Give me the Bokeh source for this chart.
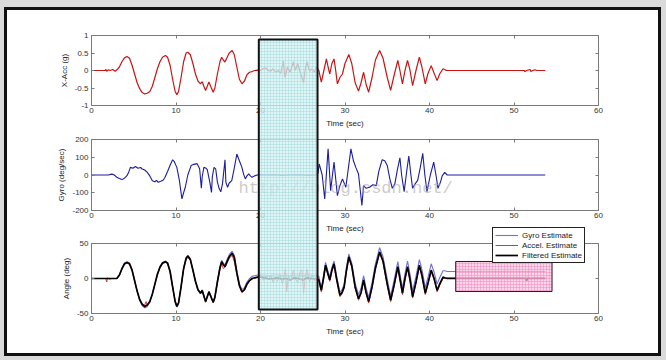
from bokeh.plotting import figure
from bokeh.models import BoxAnnotation, Label, Legend, LegendItem, LinearAxis, FixedTicker, Range1d
from bokeh.layouts import column
from bokeh.embed import file_html
from bokeh.resources import INLINE

FONT = "Liberation Sans"

# ---------------- data ----------------
x_ticks = [0, 10, 20, 30, 40, 50, 60]
x_tick_labels = ["0", "10", "20", "30", "40", "50", "60"]
acc_ticks = [-1, -0.5, 0, 0.5, 1]
acc_tick_labels = ["-1", "-0.5", "0", "0.5", "1"]
gyro_ticks = [-200, -100, 0, 100, 200]
gyro_tick_labels = ["-200", "-100", "0", "100", "200"]
ang_ticks = [-50, 0, 50]
ang_tick_labels = ["-50", "0", "50"]

acc_t = [0, 1.6, 1.7, 1.8, 2.0, 2.2, 2.5, 2.8, 3.0, 3.3,
         3.6, 3.9, 4.2, 4.5, 4.8, 5.1, 5.4, 5.7, 6.0, 6.3,
         6.6, 6.9, 7.2, 7.5, 7.8, 8.1, 8.4, 8.75, 9.0, 9.3,
         9.6, 9.9, 10.1, 10.3, 10.6, 10.9, 11.2, 11.4, 11.7, 12.0,
         12.3, 12.6, 12.9, 13.1, 13.3, 13.5, 13.7, 13.9, 14.1, 14.4,
         14.6, 14.9, 15.2, 15.4, 15.6, 15.8, 16.0, 16.3, 16.65, 16.9,
         17.2, 17.5, 17.8, 18.1, 18.4, 18.7, 19.0, 19.3, 19.7, 20.0,
         20.3, 20.6, 20.9, 21.2, 21.5, 21.8, 22.1, 22.4, 22.7, 22.9,
         23.2, 23.5, 23.9, 24.1, 24.4, 24.7, 25.1, 25.3, 25.5, 25.8,
         26.1, 26.4, 26.6, 26.9, 27.2, 27.5, 27.8, 28.0, 28.2, 28.45,
         28.7, 28.9, 29.1, 29.4, 29.7, 30.0, 30.45, 30.8, 31.2, 31.6,
         31.9, 32.2, 32.5, 32.8, 33.2, 33.6, 34.1, 34.5, 35.0, 35.4,
         35.8, 36.25, 36.5, 36.8, 37.1, 37.4, 37.7, 38.0, 38.4, 38.8,
         39.1, 39.5, 39.8, 40.2, 40.5, 40.9, 41.2, 41.6, 41.8, 42.0,
         51.2, 51.3, 51.5, 51.9, 52.0, 52.2, 52.5, 52.7, 53.7]
acc_v = [0, 0, 0.03, -0.02, 0.02, 0.0, 0.03, -0.02, 0.02, 0.1,
         0.25, 0.36, 0.40, 0.35, 0.15, -0.1, -0.35, -0.52, -0.63, -0.67,
         -0.65, -0.6, -0.45, -0.2, 0.05, 0.25, 0.38, 0.43, 0.38, 0.15,
         -0.25, -0.6, -0.69, -0.6, -0.2, 0.25, 0.5, 0.52, 0.45, 0.2,
         -0.1, -0.3, -0.38, -0.32, -0.45, -0.57, -0.45, -0.33, -0.45, -0.62,
         -0.5, -0.1, 0.25, 0.38, 0.3, 0.24, 0.35, 0.5, 0.57, 0.45,
         0.1, -0.25, -0.38, -0.3, -0.12, -0.05, -0.03, 0.0, 0.01, 0.0,
         0.05, 0.08, 0.0, -0.02, 0.05, -0.05, 0.0, -0.08, 0.27, -0.2,
         0.1, -0.05, 0.25, 0.0, 0.2, -0.05, -0.35, 0.05, 0.25, -0.02,
         0.05, -0.05, 0.1, 0.0, -0.33, 0.0, 0.33, 0.1, -0.1, 0.2,
         0.33, 0.0, -0.38, -0.2, -0.1, 0.2, 0.46, 0.2, -0.35, -0.59,
         -0.35, -0.05, -0.4, -0.62, -0.2, 0.3, 0.57, 0.35, -0.2, -0.57,
         -0.15, 0.29, 0.0, -0.38, 0.0, 0.29, 0.0, -0.43, 0.0, 0.38,
         0.1, -0.38, -0.1, 0.14, -0.05, -0.29, -0.1, 0.05, 0.03, 0.0,
         0.0, -0.03, 0.0, 0.03, -0.03, 0.0, 0.02, 0.0, 0.0]

gyro_t = [0, 2.0, 2.4, 2.7, 3.0, 3.3, 3.6, 3.9, 4.2, 4.4,
          4.6, 4.9, 5.2, 5.5, 5.8, 6.0, 6.3, 6.6, 6.9, 7.2,
          7.5, 7.7, 7.9, 8.2, 8.5, 8.7, 9.0, 9.3, 9.6, 9.8,
          10.1, 10.4, 10.7, 10.9, 11.1, 11.4, 11.8, 12.1, 12.5, 12.7,
          12.8, 13.0, 13.1, 13.3, 13.5, 13.7, 14.0, 14.2, 14.3, 14.5,
          14.7, 14.9, 15.1, 15.3, 15.5, 15.8, 15.9, 16.1, 16.3, 16.6,
          16.9, 17.2, 17.5, 17.8, 18.0, 18.2, 18.4, 18.6, 18.8, 19.0,
          19.3, 19.6, 20.0, 20.5, 21.5, 22.5, 23.5, 24.5, 25.5, 26.5,
          26.8, 26.95, 27.3, 27.6, 28.0, 28.3, 28.7, 29.1, 29.4, 29.7,
          30.1, 30.7, 31.0, 31.3, 31.6, 32.0, 32.2, 32.5, 32.9, 33.3,
          33.7, 34.0, 34.4, 34.7, 35.0, 35.3, 35.6, 35.9, 36.2, 36.5,
          36.7, 37.0, 37.3, 37.55, 37.8, 38.0, 38.3, 38.6, 38.9, 39.2,
          39.45, 39.7, 40.1, 40.5, 40.8, 41.0, 41.3, 41.5, 41.8, 42.1,
          53.7]
gyro_v = [0, 0, 5, 0, -13, -20, -26, -18, -4, 15,
          43, 38, 48, 38, 42, 34, 28, 15, -5, -32,
          -38, -30, -41, -35, -28, -13, 20, 55, 86, 75,
          43, -30, -135, -100, -69, 0, 54, 60, 64, 45,
          34, -75, -10, 43, 40, 30, -40, -98, -10, 43,
          34, -40, -75, -95, -50, 86, -40, -69, -45, -32,
          40, 118, 80, 43, 5, -22, -5, 6, -5, -13,
          -5, 0, 2, 0, 1, -1, 0, 1, -1, 0,
          10, 62, 0, -135, 147, -88, 73, -116, -60, -22,
          -69, 147, 80, 40, 6, -172, -60, -75, -69, -55,
          -60, 20, 86, 80, 54, -20, -75, -50, 30, 97,
          0, -94, 20, 107, 0, -75, -50, -30, 40, 122,
          0, -94, 0, 73, -10, -75, -40, -5, 15, 0,
          0]

ang_t = [0, 3.0, 3.3, 3.6, 3.9, 4.2, 4.5, 4.8, 5.1, 5.4,
         5.7, 6.0, 6.3, 6.6, 6.9, 7.2, 7.5, 7.8, 8.1, 8.4,
         8.75, 9.0, 9.3, 9.6, 9.9, 10.1, 10.3, 10.6, 10.9, 11.2,
         11.4, 11.7, 12.0, 12.3, 12.6, 12.9, 13.1, 13.3, 13.5, 13.7,
         13.9, 14.1, 14.4, 14.6, 14.9, 15.2, 15.4, 15.6, 15.8, 16.0,
         16.3, 16.65, 16.9, 17.2, 17.5, 17.8, 18.1, 18.4, 18.7, 19.0,
         19.3, 19.7, 20.0, 20.5, 21.0, 21.5, 22.0, 22.5, 23.0, 23.5,
         24.0, 24.5, 25.0, 25.5, 26.0, 26.5, 26.9, 27.2, 27.45, 27.7,
         27.95, 28.2, 28.45, 28.7, 29.0, 29.4, 29.65, 29.9, 30.15, 30.45,
         30.8, 31.2, 31.6, 31.9, 32.2, 32.5, 32.8, 33.2, 33.6, 34.1,
         34.5, 35.0, 35.4, 35.8, 36.25, 36.5, 36.8, 37.1, 37.4, 37.7,
         38.0, 38.4, 38.8, 39.1, 39.5, 39.85, 40.2, 40.55, 40.9, 41.2,
         41.6, 41.8, 42.1, 51.4, 51.5, 51.6, 53.7]
filtered_est = [0, 0, 5, 14, 21, 23, 21, 12, -3, -18,
                -30, -37, -40, -38, -33, -22, -8, 6, 16, 22,
                24, 22, 10, -12, -33, -40, -35, -12, 14, 29,
                32, 27, 12, -4, -16, -21, -17, -25, -33, -26,
                -19, -25, -34, -27, -5, 15, 24, 20, 17, 23,
                31, 36, 30, 8, -10, -19, -16, -8, -3, 0,
                1, 2, 2, 1, -1, 0, 1, -1, 0, -2,
                1, 0, -2, 1, 0, -1, -2, -17, 0, 19,
                8, -2, 12, 21, 0, -24, -20, -12, 10, 31,
                18, -12, -29, -20, -2, -20, -33, -12, 15, 38,
                25, -8, -31, -10, 17, 0, -21, 0, 17, -2,
                -26, -5, 19, 5, -21, -5, 12, 0, -17, -8,
                2, 1, 0, 0, -3, 0, 0]
gyro_est = [0, 0, 5, 14, 22, 24, 22, 13, -2, -18,
            -31, -39, -42, -40, -34, -22, -8, 7, 17, 23,
            25, 23, 11, -11, -33, -41, -36, -11, 15, 30,
            33, 28, 13, -3, -15, -20, -16, -24, -32, -25,
            -18, -24, -33, -26, -3, 17, 26, 22, 19, 26,
            34, 39, 33, 11, -7, -16, -13, -5, 0, 3,
            4, 5, 5, 5, 4, 5, 5, 4, 5, 4,
            5, 5, 4, 5, 5, 4, 3, -14, 3, 23,
            12, 2, 16, 25, 4, -20, -16, -8, 14, 35,
            22, -7, -23, -14, 4, -14, -27, -6, 21, 44,
            31, -1, -25, -3, 24, 7, -14, 7, 25, 6,
            -18, 3, 27, 13, -13, 3, 21, 9, -8, 1,
            11, 11, 10, 10, 10, 10, 10]

acc_est_t = [0, 1.7, 1.8, 1.9, 2.1, 2.4, 3.0, 3.3, 3.6, 3.9,
             4.2, 4.5, 4.8, 5.1, 5.4, 5.7, 6.0, 6.3, 6.45, 6.6,
             6.9, 7.2, 7.5, 7.8, 8.1, 8.4, 8.75, 9.0, 9.3, 9.6,
             9.9, 10.1, 10.3, 10.6, 10.9, 11.2, 11.4, 11.7, 12.0, 12.3,
             12.6, 12.9, 13.1, 13.3, 13.5, 13.7, 13.9, 14.1, 14.4, 14.6,
             14.9, 15.2, 15.4, 15.6, 15.8, 16.0, 16.3, 16.65, 16.9, 17.2,
             17.5, 17.8, 18.1, 18.4, 18.7, 19.0, 19.4, 19.8, 20.1, 20.4,
             20.7, 21.0, 21.2, 21.5, 21.8, 22.0, 22.3, 22.6, 22.8, 22.95,
             23.1, 23.3, 23.6, 23.9, 24.1, 24.4, 24.7, 24.9, 25.1, 25.3,
             25.5, 25.8, 26.1, 26.4, 26.7, 26.9, 27.2, 27.45, 27.7, 27.95,
             28.2, 28.45, 28.7, 29.0, 29.4, 29.65, 29.9, 30.15, 30.45, 30.8,
             31.2, 31.6, 31.9, 32.2, 32.5, 32.8, 33.2, 33.6, 34.1, 34.5,
             35.0, 35.4, 35.8, 36.25, 36.5, 36.8, 37.1, 37.4, 37.7, 38.0,
             38.4, 38.8, 39.1, 39.5, 39.85, 40.2, 40.55, 40.9, 41.2, 41.6,
             41.8, 42.1, 51.2, 51.3, 51.5, 51.9, 52.0, 52.2, 53.7]
acc_est = [0, 0, -5, 1, -1, 0, 0, 4, 13, 20,
           22, 20, 11, -4, -18, -30, -36, -38, -33, -38,
           -33, -23, -9, 5, 15, 21, 23, 21, 9, -13,
           -32, -38, -34, -13, 13, 27, 30, 26, 11, -5,
           -17, -22, -18, -26, -34, -27, -20, -26, -35, -28,
           -6, 13, 22, 14, 16, 21, 29, 33, 24, 6,
           -11, -20, -17, -9, -4, -1, 1, 3, 5, -3,
           4, -2, 5, -6, 2, -4, 6, -8, 3, 14,
           -19, 4, -3, 12, 0, -6, 10, 12, -21, 2,
           13, -5, 5, -3, 6, -2, -19, -2, 17, 6,
           -4, 10, 19, -2, -26, -22, -14, 8, 29, 16,
           -14, -31, -22, -4, -22, -35, -14, 13, 36, 23,
           -10, -33, -12, 15, -2, -23, -2, 15, -4, -28,
           -7, 17, 3, -23, -7, 10, -2, -19, -10, 0,
           0, 1, 1, 0, 2, 1, -1, 1, 1]

legend_labels = ["Gyro Estimate", "Accel. Estimate", "Filtered Estimate"]

# highlighted regions
cyan_x = [19.8, 26.75]          # time (sec)
cyan_ang_bottom = -44.3         # angle units (bottom plot)
pink_x = [43.1, 54.5]
pink_y = [-18.6, 24.3]

# ---------------- layout (pixels) ----------------
W, H = 651, 343
LEFT, RIGHT = 84, 60
FIG_H = [122, 105, 116]
TOPS = [25, 7, 6]
BOTS = [27, 27, 40]
P3_TOP = FIG_H[0] + FIG_H[1] + TOPS[2]
P3_BOT = P3_TOP + (FIG_H[2] - TOPS[2] - BOTS[2])
BOX_TOP_PX = 29
GREY = "#7a7a7a"
NAN = float("nan")


def make_fig(i, yr, yticks, ylabels, ylabel):
    p = figure(width=W, height=FIG_H[i], x_range=Range1d(0, 60), y_range=Range1d(yr[0], yr[1]),
               output_backend="svg", toolbar_location=None,
               min_border_left=LEFT, min_border_right=RIGHT,
               min_border_top=TOPS[i], min_border_bottom=BOTS[i],
               background_fill_color="white", border_fill_color="white")
    p.grid.visible = False
    p.outline_line_color = GREY
    p.outline_line_width = 1
    p.xaxis.ticker = FixedTicker(ticks=x_ticks)
    p.xaxis.major_label_overrides = dict(zip(x_ticks, x_tick_labels))
    p.yaxis.ticker = FixedTicker(ticks=yticks)
    p.yaxis.major_label_overrides = dict(zip(yticks, ylabels))
    p.xaxis.axis_label = "Time (sec)"
    p.yaxis.axis_label = ylabel
    for ax in p.axis:
        ax.axis_line_color = None
        ax.major_tick_in = 3
        ax.major_tick_out = 0
        ax.major_tick_line_color = GREY
        ax.minor_tick_line_color = None
        ax.major_label_text_font = FONT
        ax.major_label_text_font_size = "8px"
        ax.major_label_text_color = "#333333"
        ax.axis_label_text_font = FONT
        ax.axis_label_text_font_size = "8px"
        ax.axis_label_text_font_style = "normal"
        ax.axis_label_text_color = "#222222"
    p.xaxis.major_label_standoff = 2
    p.xaxis.axis_label_standoff = 3
    p.yaxis.major_label_standoff = 3
    p.yaxis.axis_label_standoff = 3
    for place, tk in (("right", yticks), ("above", x_ticks)):
        a = LinearAxis(ticker=FixedTicker(ticks=tk), major_label_text_font_size="1px",
                       major_label_text_color=None,
                       major_tick_in=3, major_tick_out=0, major_label_standoff=0,
                       axis_line_color=None, minor_tick_line_color=None,
                       major_tick_line_color=GREY)
        p.add_layout(a, place)
    return p


p1 = make_fig(0, (-1, 1), acc_ticks, acc_tick_labels, "X-Acc (g)")
p1.line(acc_t, acc_v, line_color="#c81414", line_width=1.2)

p2 = make_fig(1, (-200, 200), gyro_ticks, gyro_tick_labels, "Gyro (deg/sec)")
p2.line(gyro_t, gyro_v, line_color="#1c1ca0", line_width=1.1)
p2.add_layout(Label(x=17.4, y=-128, text="http://blog.csdn.net/", text_font="Liberation Mono",
                    text_font_size="17px", text_color="#a8a8a8", text_alpha=0.6))

p3 = make_fig(2, (-50, 50), ang_ticks, ang_tick_labels, "Angle (deg)")
p3.line(ang_t, gyro_est, line_color="#7272d6", line_width=1.1)
p3.line(acc_est_t, acc_est, line_color="#e03434", line_width=1.0)
p3.line(ang_t, filtered_est, line_color="#000000", line_width=1.7)
p3.add_layout(BoxAnnotation(left=pink_x[0], right=pink_x[1], bottom=pink_y[0], top=pink_y[1],
                            fill_color="#fac4de", fill_alpha=0.7,
                            hatch_pattern="+", hatch_color="#ee82be", hatch_scale=3,
                            hatch_weight=0.6, hatch_alpha=0.8,
                            line_color="#3a1028", line_alpha=1, line_width=1))

# transparent overlay spanning all three panels, same time axis, y in angle units
ppu = (P3_BOT - P3_TOP) / 100.0
ov_y0 = -50 - (H - P3_BOT) / ppu
ov_y1 = 50 + P3_TOP / ppu
ov = figure(width=W, height=H, x_range=Range1d(0, 60), y_range=Range1d(ov_y0, ov_y1),
            output_backend="svg", toolbar_location=None,
            x_axis_location=None, y_axis_location=None,
            min_border_left=LEFT, min_border_right=RIGHT, min_border_top=0, min_border_bottom=0,
            background_fill_alpha=0, border_fill_alpha=0, outline_line_color=None,
            margin=(-H, 0, 0, 0))
ov.grid.visible = False
ov.add_layout(BoxAnnotation(left=cyan_x[0], right=cyan_x[1],
                            top=50 + (P3_TOP - BOX_TOP_PX) / ppu, bottom=cyan_ang_bottom,
                            fill_color="#d6f1f2", fill_alpha=0.75,
                            hatch_pattern="+", hatch_color="#9fd6dc", hatch_scale=3,
                            hatch_weight=0.6, hatch_alpha=0.8,
                            line_color="#111111", line_alpha=1, line_width=2))
lg = ov.line([NAN], [NAN], line_color="#7272d6", line_width=1.1)
la = ov.line([NAN], [NAN], line_color="#e03434", line_width=1.0)
lf = ov.line([NAN], [NAN], line_color="#000000", line_width=1.7)
legend = Legend(items=[LegendItem(label=legend_labels[0], renderers=[lg]),
                       LegendItem(label=legend_labels[1], renderers=[la]),
                       LegendItem(label=legend_labels[2], renderers=[lf])],
                location=(401, 90), orientation="vertical",
                label_text_font=FONT, label_text_font_size="8px", label_text_color="#222222",
                glyph_width=23, glyph_height=10, label_height=10, label_standoff=4,
                padding=2, spacing=0, margin=0,
                border_line_color="#222222", border_line_alpha=1, border_line_width=1,
                background_fill_color="white", background_fill_alpha=1)
ov.add_layout(legend)

layout = column(p1, p2, p3, ov, spacing=0, margin=(10, 0, 0, 7),
                styles={"outline": "3px solid #111111", "box-shadow": "0 0 0 14px #dadada"})

open("out.html", "w").write(file_html(layout, INLINE))
